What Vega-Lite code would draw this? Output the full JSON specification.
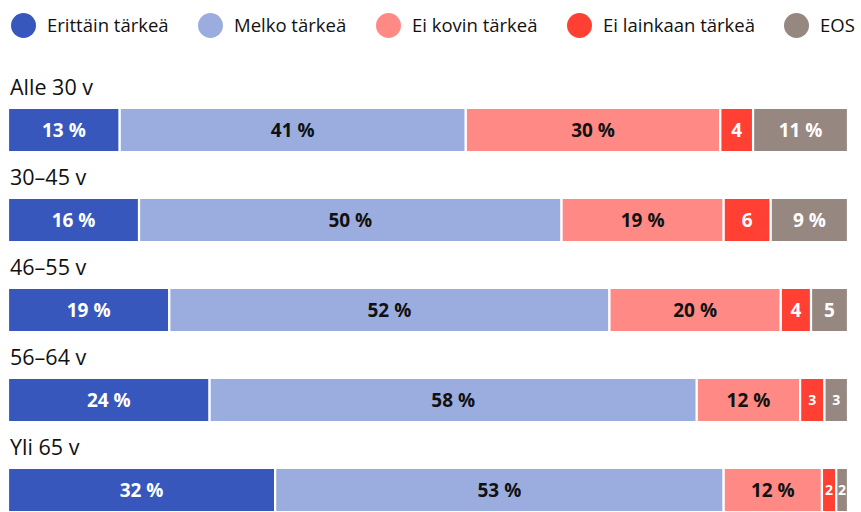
{
  "$schema": "https://vega.github.io/schema/vega-lite/v6.json",
  "width": 840,
  "height": 404,
  "autosize": {"type": "none"},
  "padding": {"left": 8, "top": 108, "right": 13, "bottom": 0},
  "background": "white",
  "config": {"view": {"stroke": null}, "font": "Open Sans"},
  "data": {"values": [
    {"group": "Alle 30 v", "category": "Erittäin tärkeä", "value": 13.3, "label": "13 %"},
    {"group": "Alle 30 v", "category": "Melko tärkeä", "value": 41.2, "label": "41 %"},
    {"group": "Alle 30 v", "category": "Ei kovin tärkeä", "value": 30.3, "label": "30 %"},
    {"group": "Alle 30 v", "category": "Ei lainkaan tärkeä", "value": 3.9, "label": "4"},
    {"group": "Alle 30 v", "category": "EOS", "value": 11.3, "label": "11 %"},
    {"group": "30–45 v", "category": "Erittäin tärkeä", "value": 15.6, "label": "16 %"},
    {"group": "30–45 v", "category": "Melko tärkeä", "value": 50.3, "label": "50 %"},
    {"group": "30–45 v", "category": "Ei kovin tärkeä", "value": 19.3, "label": "19 %"},
    {"group": "30–45 v", "category": "Ei lainkaan tärkeä", "value": 5.6, "label": "6"},
    {"group": "30–45 v", "category": "EOS", "value": 9.2, "label": "9 %"},
    {"group": "46–55 v", "category": "Erittäin tärkeä", "value": 19.2, "label": "19 %"},
    {"group": "46–55 v", "category": "Melko tärkeä", "value": 52.4, "label": "52 %"},
    {"group": "46–55 v", "category": "Ei kovin tärkeä", "value": 20.4, "label": "20 %"},
    {"group": "46–55 v", "category": "Ei lainkaan tärkeä", "value": 3.6, "label": "4"},
    {"group": "46–55 v", "category": "EOS", "value": 4.4, "label": "5"},
    {"group": "56–64 v", "category": "Erittäin tärkeä", "value": 24.0, "label": "24 %"},
    {"group": "56–64 v", "category": "Melko tärkeä", "value": 58.0, "label": "58 %"},
    {"group": "56–64 v", "category": "Ei kovin tärkeä", "value": 12.3, "label": "12 %"},
    {"group": "56–64 v", "category": "Ei lainkaan tärkeä", "value": 2.9, "label": "3"},
    {"group": "56–64 v", "category": "EOS", "value": 2.8, "label": "3"},
    {"group": "Yli 65 v", "category": "Erittäin tärkeä", "value": 31.8, "label": "32 %"},
    {"group": "Yli 65 v", "category": "Melko tärkeä", "value": 53.4, "label": "53 %"},
    {"group": "Yli 65 v", "category": "Ei kovin tärkeä", "value": 11.7, "label": "12 %"},
    {"group": "Yli 65 v", "category": "Ei lainkaan tärkeä", "value": 1.7, "label": "2"},
    {"group": "Yli 65 v", "category": "EOS", "value": 1.4, "label": "2"}
  ]},
  "transform": [
    {"calculate": "indexof(['Erittäin tärkeä','Melko tärkeä','Ei kovin tärkeä','Ei lainkaan tärkeä','EOS'], datum.category)", "as": "ord"},
    {"stack": "value", "groupby": ["group"], "sort": [{"field": "ord", "order": "ascending"}], "offset": "normalize", "as": ["v0", "v1"]},
    {"calculate": "(datum.v0 + datum.v1) / 2", "as": "mid"}
  ],
  "encoding": {
    "y": {"field": "group", "type": "nominal", "sort": ["Alle 30 v", "30–45 v", "46–55 v", "56–64 v", "Yli 65 v"],
      "scale": {"paddingInner": 0.511, "paddingOuter": 0}, "axis": null}
  },
  "layer": [
    {
      "mark": {"type": "bar", "stroke": "white", "strokeWidth": 2.2},
      "encoding": {
        "x": {"field": "v0", "type": "quantitative", "scale": {"domain": [0, 1], "nice": false, "zero": false}, "axis": null},
        "x2": {"field": "v1"},
        "color": {"field": "category", "type": "nominal",
          "scale": {"domain": ["Erittäin tärkeä", "Melko tärkeä", "Ei kovin tärkeä", "Ei lainkaan tärkeä", "EOS"],
            "range": ["#3757bd", "#9badde", "#ff8a85", "#ff4033", "#978781"]},
          "legend": {"title": null, "orient": "none", "direction": "horizontal", "legendX": 3, "legendY": -95,
            "symbolType": "circle", "symbolSize": 625, "symbolStrokeWidth": 0, "symbolOpacity": 1,
            "labelFontSize": 18.5, "labelFont": "Open Sans", "labelColor": "#111111", "labelOffset": 11,
            "columnPadding": 29, "padding": 0, "labelLimit": 300}
        }
      }
    },
    {
      "mark": {"type": "text", "fontWeight": "bold", "align": "center", "baseline": "middle", "dy": 1},
      "encoding": {
        "x": {"field": "mid", "type": "quantitative"},
        "text": {"field": "label"},
        "size": {"condition": {"test": "datum.value < 3.5", "value": 14}, "value": 19},
        "color": {"condition": {"test": "datum.category === 'Melko tärkeä' || datum.category === 'Ei kovin tärkeä'", "value": "#111111"}, "value": "white"}
      }
    },
    {
      "transform": [{"filter": "datum.ord === 0"}],
      "mark": {"type": "text", "fontSize": 21.5, "align": "left", "baseline": "alphabetic", "dy": -13, "dx": 2, "color": "#111111"},
      "encoding": {
        "x": {"field": "v0", "type": "quantitative"},
        "y": {"field": "group", "type": "nominal", "sort": ["Alle 30 v", "30–45 v", "46–55 v", "56–64 v", "Yli 65 v"], "bandPosition": 0},
        "text": {"field": "group"}
      }
    }
  ]
}
